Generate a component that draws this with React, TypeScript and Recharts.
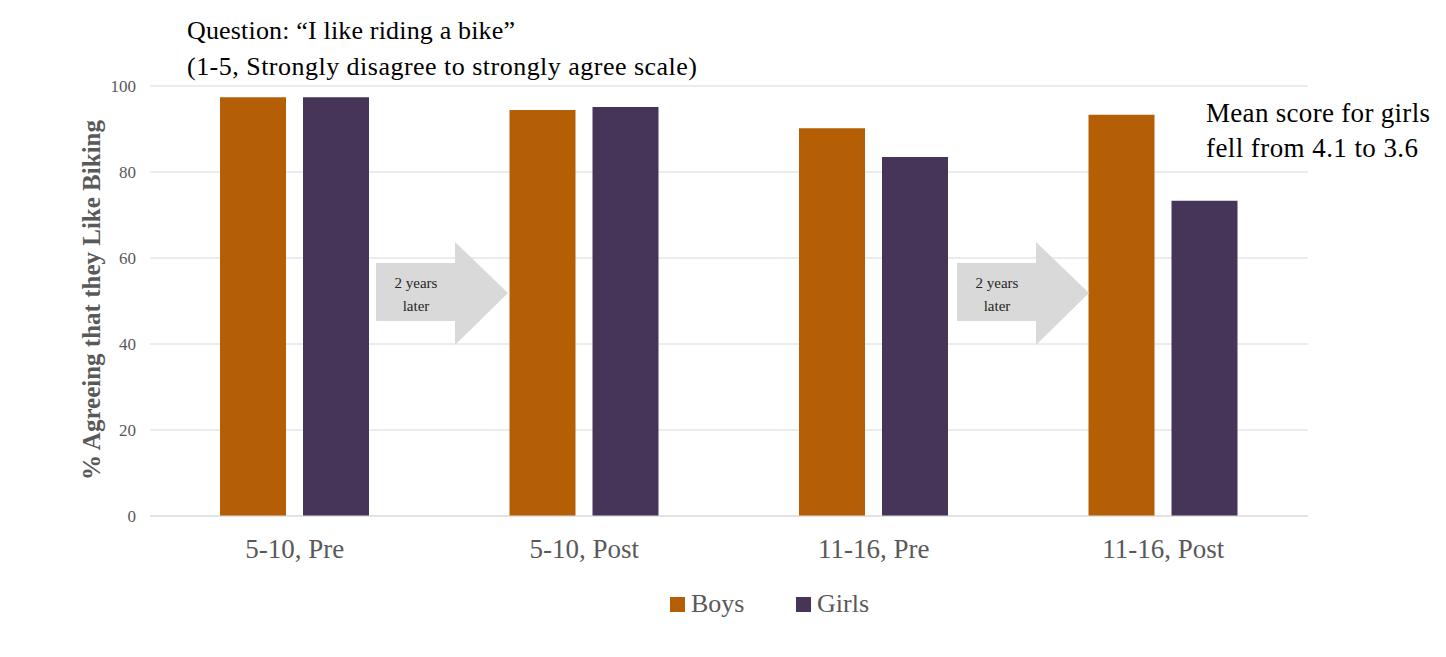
import React from 'react';
import { BarChart, Bar, XAxis, YAxis, CartesianGrid } from 'recharts';

const categories = ['5-10, Pre', '5-10, Post', '11-16, Pre', '11-16, Post'];
const boys = [97.4, 94.4, 90.2, 93.3];
const girls = [97.4, 95.1, 83.5, 73.3];
const yTicks = [0, 20, 40, 60, 80, 100];

const BOYS = '#b45f06';
const GIRLS = '#463558';
const FONT = 'Liberation Serif';

const data = categories.map((name, i) => ({ name, Boys: boys[i], Girls: girls[i] }));

function Arrow({ x }: { x: number }) {
  const pts = [
    [x, 263], [x + 79, 263], [x + 79, 242], [x + 132, 293],
    [x + 79, 345], [x + 79, 321], [x, 321],
  ].map((p) => p.join(',')).join(' ');
  return (
    <g>
      <polygon points={pts} fill="#d9d9d9" />
      <text x={x + 40} y={288} textAnchor="middle" fontSize={15} fontFamily={FONT} fill="#262626">2 years</text>
      <text x={x + 40} y={311} textAnchor="middle" fontSize={15} fontFamily={FONT} fill="#262626">later</text>
    </g>
  );
}

function Legend2() {
  const items = [
    { name: 'Boys', color: BOYS, x: 670 },
    { name: 'Girls', color: GIRLS, x: 796 },
  ];
  return (
    <g>
      {items.map((it) => (
        <g key={it.name}>
          <rect x={it.x} y={597} width={15} height={15} fill={it.color} />
          <text x={it.x + 21} y={612} fontSize={26} fontFamily={FONT} fill="#595959">{it.name}</text>
        </g>
      ))}
    </g>
  );
}

export default function App() {
  return (
    <div style={{ position: 'fixed', left: 0, top: 0, width: 1446, height: 657, background: '#fff', fontFamily: FONT }}>
      <BarChart
        width={1446}
        height={657}
        data={data}
        margin={{ top: 86, right: 138, left: 90, bottom: 101 }}
        barSize={66}
        barGap={17}
      >
        <CartesianGrid vertical={false} stroke="#d9d9d9" />
        <XAxis
          dataKey="name"
          axisLine={{ stroke: '#d9d9d9' }}
          tickLine={false}
          height={40}
          tick={{ fill: '#595959', fontSize: 27, fontFamily: FONT }}
          dy={15}
        />
        <YAxis
          domain={[0, 100]}
          ticks={yTicks}
          width={60}
          axisLine={false}
          tickLine={false}
          tickMargin={8}
          tick={{ fill: '#595959', fontSize: 17, fontFamily: FONT }}
        />
        <Bar dataKey="Boys" fill={BOYS} isAnimationActive={false} />
        <Bar dataKey="Girls" fill={GIRLS} isAnimationActive={false} />
      </BarChart>
      <svg width={1446} height={657} style={{ position: 'absolute', left: 0, top: 0, pointerEvents: 'none' }}>
        <text x={187} y={39} fontSize={26} fontFamily={FONT} fill="#000" textLength={328}>Question: “I like riding a bike”</text>
        <text x={187} y={75} fontSize={26} fontFamily={FONT} fill="#000" textLength={510}>(1-5, Strongly disagree to strongly agree scale)</text>
        <text x={1206} y={122} fontSize={27} fontFamily={FONT} fill="#000" textLength={224}>Mean score for girls</text>
        <text x={1206} y={157} fontSize={27} fontFamily={FONT} fill="#000" textLength={212}>fell from 4.1 to 3.6</text>
        <text
          transform="translate(100,300) rotate(-90)"
          textAnchor="middle"
          fontSize={25}
          fontWeight="bold"
          fontFamily={FONT}
          fill="#595959"
        >
          % Agreeing that they Like Biking
        </text>
        <Arrow x={376} />
        <Arrow x={957} />
        <Legend2 />
      </svg>
    </div>
  );
}
